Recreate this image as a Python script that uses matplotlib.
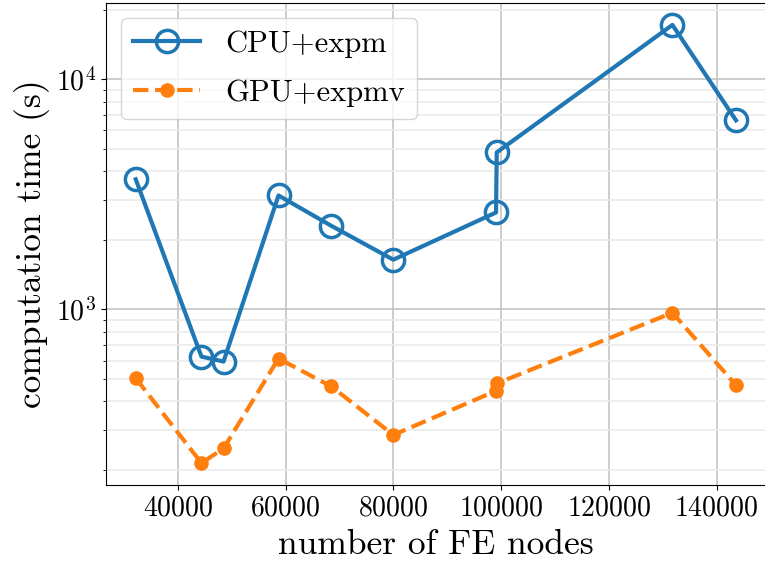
import matplotlib
matplotlib.use("Agg")
import matplotlib.pyplot as plt

# style proche de LaTeX (Computer Modern)
plt.rcParams["font.family"] = "serif"
plt.rcParams["font.serif"] = ["cmr10", "DejaVu Serif"]
plt.rcParams["mathtext.fontset"] = "cm"
plt.rcParams["axes.formatter.use_mathtext"] = True
plt.rcParams["axes.unicode_minus"] = False

# --- données ---
fe_nodes = [32200, 44400, 48500, 58700, 68500, 80000, 99070, 99200, 131800, 143600]
cpu_expm = [3680, 624, 594, 3130, 2310, 1646, 2640, 4815, 17250, 6640]
gpu_expmv = [503, 215, 249, 612, 463, 285, 443, 477, 968, 469]

fig = plt.figure(figsize=(7.65, 5.68), dpi=100)
ax = fig.add_axes([105.7 / 765, 83 / 568, (766 - 105.7) / 765, (485 - 3) / 568])

ax.plot(fe_nodes, cpu_expm, "-o", color="tab:blue", lw=3, ms=16,
        mfc="none", mew=2.5, label="CPU+expm")
ax.plot(fe_nodes, gpu_expmv, "--o", color="tab:orange", lw=3, ms=9.5,
        label="GPU+expmv")
ax.set_yscale("log")

ax.grid(True, which="major", color="#c4c4c4", lw=1.2)
ax.grid(True, which="minor", axis="y", color="#ebebeb", lw=1.2)
ax.set_axisbelow(True)

ax.tick_params(labelsize=20)
ax.set_xlabel("number of FE nodes", fontsize=25.5, labelpad=6)
ax.set_ylabel("computation time (s)", fontsize=25.5)
ax.legend(loc="upper left", fontsize=22, handlelength=2.2, labelspacing=0.7)

fig.savefig("out.png", dpi=100)
